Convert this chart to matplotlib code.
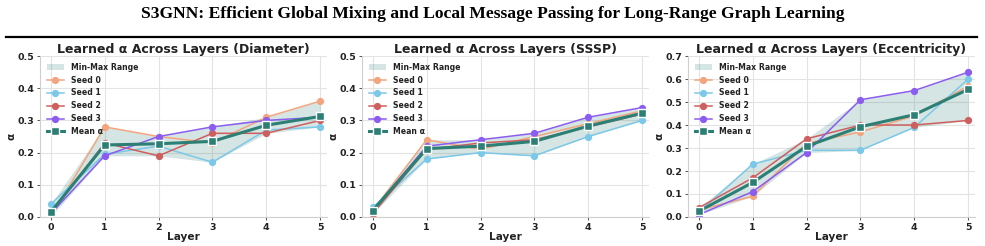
import matplotlib
matplotlib.use("Agg")
import matplotlib.pyplot as plt
import numpy as np

# layers on the x axis
layers = [0, 1, 2, 3, 4, 5]

# Diameter
diam_seed0 = [0.00, 0.28, 0.25, 0.23, 0.31, 0.36]
diam_seed1 = [0.04, 0.195, 0.22, 0.17, 0.27, 0.28]
diam_seed2 = [0.01, 0.23, 0.19, 0.26, 0.26, 0.30]
diam_seed3 = [0.01, 0.19, 0.25, 0.28, 0.30, 0.31]

# SSSP
sssp_seed0 = [0.02, 0.24, 0.21, 0.25, 0.29, 0.33]
sssp_seed1 = [0.03, 0.18, 0.20, 0.19, 0.25, 0.30]
sssp_seed2 = [0.01, 0.21, 0.23, 0.24, 0.28, 0.32]
sssp_seed3 = [0.02, 0.22, 0.24, 0.26, 0.31, 0.34]

# Eccentricity
ecc_seed0 = [0.03, 0.09, 0.32, 0.37, 0.44, 0.57]
ecc_seed1 = [0.02, 0.23, 0.29, 0.29, 0.39, 0.60]
ecc_seed2 = [0.04, 0.17, 0.34, 0.40, 0.40, 0.42]
ecc_seed3 = [0.01, 0.11, 0.28, 0.51, 0.55, 0.63]

tasks = ["Diameter", "SSSP", "Eccentricity"]
seed_data = [
    [diam_seed0, diam_seed1, diam_seed2, diam_seed3],
    [sssp_seed0, sssp_seed1, sssp_seed2, sssp_seed3],
    [ecc_seed0, ecc_seed1, ecc_seed2, ecc_seed3],
]
ylims = [0.5, 0.5, 0.7]

seed_colors = ["#F2A57E", "#7CC8E8", "#CF5F5F", "#8B5CF0"]
mean_color = "#2C7F74"

fig = plt.figure(figsize=(9.85, 2.46), dpi=100)
fig.text(0.5, 0.945, "S3GNN: Efficient Global Mixing and Local Message Passing for Long-Range Graph Learning",
         ha="center", va="center", family="Liberation Serif", weight="bold", fontsize=12.6)
fig.add_artist(plt.Line2D([0.006, 0.992], [0.85, 0.85], color="black", lw=1.6,
                          transform=fig.transFigure))

lefts = [0.0406, 0.3675, 0.6985]
for left, task, seeds, ymax in zip(lefts, tasks, seed_data, ylims):
    ax = fig.add_axes([left, 0.118, 0.291, 0.654])
    arr = np.array(seeds)
    mean = arr.mean(axis=0)
    ax.fill_between(layers, arr.min(axis=0), arr.max(axis=0), color=mean_color,
                    alpha=0.2, lw=0, label="Min-Max Range", zorder=1)
    for i, (s, c) in enumerate(zip(seeds, seed_colors)):
        ax.plot(layers, s, color=c, lw=1.1, marker="o", ms=4.2, label=f"Seed {i}", zorder=2)
    ax.plot(layers, mean, color=mean_color, lw=2.2, marker="s", ms=6.3,
            markeredgecolor="white", markeredgewidth=1.0, label="Mean α", zorder=3)

    ax.set_xlim(-0.2, 5.12)
    ax.set_ylim(0, ymax)
    ax.set_xticks(layers)
    ax.set_yticks(np.arange(0, ymax + 0.001, 0.1))
    ax.set_yticklabels([f"{v:.1f}" for v in np.arange(0, ymax + 0.001, 0.1)])
    ax.grid(color="#E3E3E3", lw=0.8)
    ax.set_axisbelow(True)
    for side in ["top", "right"]:
        ax.spines[side].set_visible(False)
    for side in ["left", "bottom"]:
        ax.spines[side].set_color("#CFCFCF")
        ax.spines[side].set_linewidth(0.8)
    ax.tick_params(labelsize=6.8, length=2.5, width=0.7, color="#555555", pad=1.5)
    for lab in ax.get_xticklabels() + ax.get_yticklabels():
        lab.set_fontweight("bold")
        lab.set_color("#222222")
    ax.set_title(f"Learned α Across Layers ({task})", fontsize=9, weight="bold",
                 pad=2.5, color="#222222")
    ax.set_xlabel("Layer", fontsize=7.6, weight="bold", labelpad=0, color="#222222")
    ax.set_ylabel("α", fontsize=7.6, weight="bold", labelpad=1, color="#222222")
    leg = ax.legend(loc="upper left", frameon=False, fontsize=5.6, handlelength=2.2,
                    labelspacing=0.5, borderaxespad=0.35, handletextpad=0.9,
                    borderpad=0.5)
    for t in leg.get_texts():
        t.set_fontweight("bold")
        t.set_color("#222222")

fig.savefig("out.png", dpi=100)
plt.close(fig)
